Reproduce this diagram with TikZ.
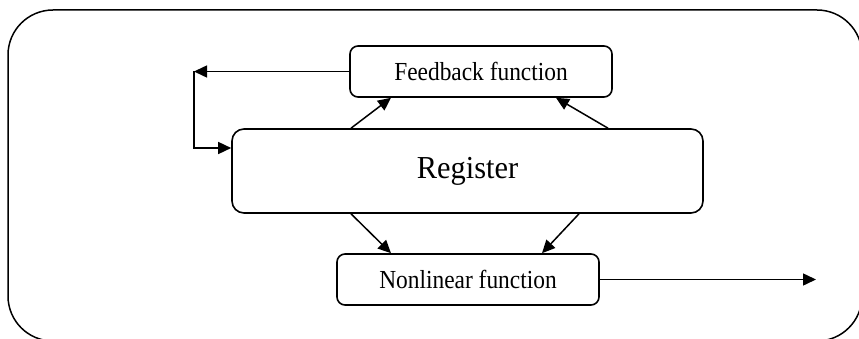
\documentclass[tikz,border=0pt]{standalone}
\usepackage{fontspec}
\setmainfont{Liberation Serif}
\usepackage{graphicx}
\usepackage{tikz}
\usetikzlibrary{positioning,arrows.meta,calc}

\newcommand{\narrowtxt}[1]{\scalebox{0.9}[1]{#1}}

\tikzset{
  funcbox/.style={draw, line width=1.6pt, rounded corners=8pt, inner sep=0pt,
    font=\fontsize{26}{30}\selectfont},
  flow/.style={line width=1.5pt, -{Triangle[length=13pt,width=12pt]}},
}

\begin{document}
\begin{tikzpicture}[x=1pt, y=-1pt]
  \useasboundingbox (0,0) rectangle (859,339);
  % outer frame
  \draw[line width=1.5pt, rounded corners=45pt] (8,10) rectangle (862,341);

  \node[funcbox, minimum width=262pt, minimum height=51pt] (fb) at (481,71.5) {\narrowtxt{Feedback function}};
  \node[funcbox, minimum width=471pt, minimum height=84pt, rounded corners=12pt,
        font=\fontsize{32}{36}\selectfont] (reg) at (467.5,171) {\scalebox{0.95}[1]{Register}};
  \node[funcbox, minimum width=262pt, minimum height=51pt] (nl) at (468,279.5) {\narrowtxt{Nonlinear function}};

  \coordinate (fbk) at (194,71.5);
  \coordinate (out) at (816,279.5);

  % register -> feedback / nonlinear
  \draw[flow] ([xshift=-116.5pt]reg.north) -- ([xshift=-90pt]fb.south);
  \draw[flow] ([xshift=140.5pt]reg.north) -- ([xshift=75pt]fb.south);
  \draw[flow] ([xshift=-116.5pt]reg.south) -- ([xshift=-77pt]nl.north);
  \draw[flow] ([xshift=111.5pt]reg.south) -- ([xshift=74pt]nl.north);

  % feedback loop
  \draw[flow] (fb.west) -- (fbk);
  \draw[flow] (fbk) |- ([yshift=23pt]reg.west);

  \draw[flow] (nl.east) -- (out);
\end{tikzpicture}
\end{document}
